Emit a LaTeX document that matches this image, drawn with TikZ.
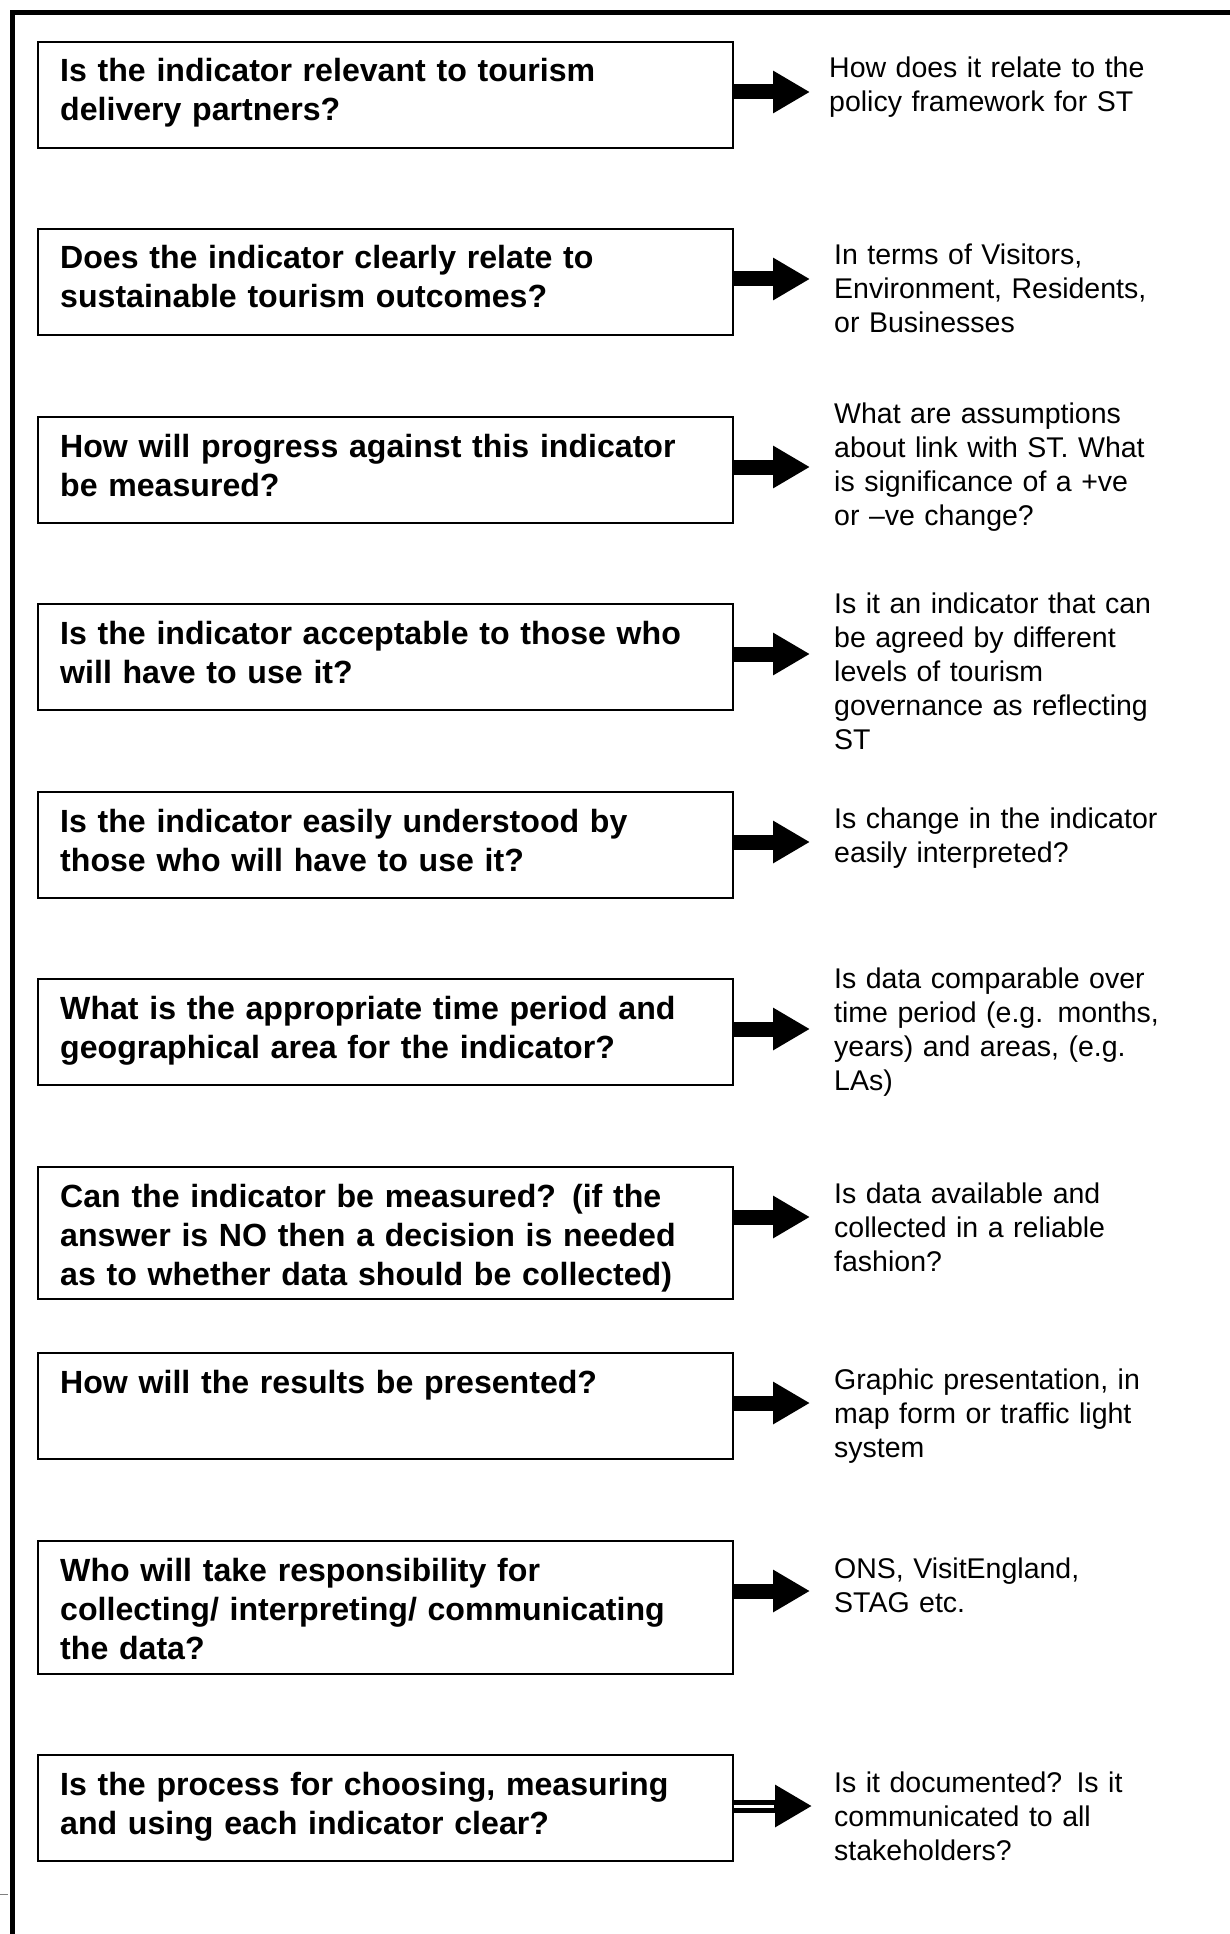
\documentclass[tikz,border=0pt]{standalone}
\usepackage{fontspec}
\setmainfont{Liberation Sans}
\usetikzlibrary{arrows.meta}
\begin{document}
\begin{tikzpicture}[x=1pt,y=-1pt,
  qbox/.style={draw, line width=1.6pt, anchor=north west, minimum width=695pt, inner sep=0pt},
  qtext/.style={anchor=base west, text width=670pt, align=left, inner sep=0pt, font=\fontsize{32.1}{39}\selectfont\bfseries},
  atext/.style={anchor=base west, text width=390pt, align=left, inner sep=0pt, font=\fontsize{28.5}{34}\selectfont},
  arr/.style={line width=15pt, -{Triangle[length=37pt,width=40pt]}},
  frame/.style={line width=5pt}
]
\useasboundingbox (0,0) rectangle (1230,1934);
\fill[white] (0,0) rectangle (1230,1934);
% frame
\coordinate (fl) at (12,1934);
\coordinate (fc) at (12,13);
\coordinate (fr) at (1230,13);
\draw[frame] (fl) -- (fc) -- (fr);
\coordinate (tk1) at (0,1894);
\coordinate (tk2) at (8,1894);
\draw[gray, line width=1pt] (tk1) -- (tk2);

% boxes
\node[qbox, minimum height=106pt] (b1) at (37,41) {};
\node[qbox, minimum height=106pt] (b2) at (37,228) {};
\node[qbox, minimum height=106pt] (b3) at (37,416) {};
\node[qbox, minimum height=106pt] (b4) at (37,603) {};
\node[qbox, minimum height=106pt] (b5) at (37,791) {};
\node[qbox, minimum height=106pt] (b6) at (37,978) {};
\node[qbox, minimum height=132pt] (b7) at (37,1166) {};
\node[qbox, minimum height=106pt] (b8) at (37,1352) {};
\node[qbox, minimum height=133pt] (b9) at (37,1540) {};
\node[qbox, minimum height=106pt] (b10) at (37,1754) {};

% question texts
\node[qtext] (q1) at (60,82) {Is the indicator relevant to tourism\\delivery partners?};
\node[qtext] (q2) at (60,269) {Does the indicator clearly relate to\\sustainable tourism outcomes?};
\node[qtext] (q3) at (60,457) {How will progress against this indicator\\be measured?};
\node[qtext] (q4) at (60,644) {Is the indicator acceptable to those who\\will have to use it?};
\node[qtext] (q5) at (60,832) {Is the indicator easily understood by\\those who will have to use it?};
\node[qtext] (q6) at (60,1019) {What is the appropriate time period and\\geographical area for the indicator?};
\node[qtext] (q7) at (60,1207) {Can the indicator be measured? (if the\\answer is NO then a decision is needed\\as to whether data should be collected)};
\node[qtext] (q8) at (60,1393) {How will the results be presented?};
\node[qtext] (q9) at (60,1581) {Who will take responsibility for\\collecting/ interpreting/ communicating\\the data?};
\node[qtext] (q10) at (60,1795) {Is the process for choosing, measuring\\and using each indicator clear?};

% answer texts
\node[atext] (a1) at (829,78) {How does it relate to the\\policy framework for ST};
\node[atext] (a2) at (834,265) {In terms of Visitors,\\Environment, Residents,\\or Businesses};
\node[atext] (a3) at (834,423) {What are assumptions\\about link with ST. What\\is significance of a +ve\\or –ve change?};
\node[atext] (a4) at (834,613) {Is it an indicator that can\\be agreed by different\\levels of tourism\\governance as reflecting\\ST};
\node[atext] (a5) at (834,828) {Is change in the indicator\\easily interpreted?};
\node[atext] (a6) at (834,988) {Is data comparable over\\time period (e.g. months,\\years) and areas, (e.g.\\LAs)};
\node[atext] (a7) at (834,1203) {Is data available and\\collected in a reliable\\fashion?};
\node[atext] (a8) at (834,1389) {Graphic presentation, in\\map form or traffic light\\system};
\node[atext] (a9) at (834,1578) {ONS, VisitEngland,\\STAG etc.};
\node[atext] (a10) at (834,1792) {Is it documented? Is it\\communicated to all\\stakeholders?};

% arrow tips
\coordinate (t1) at (810,92);
\coordinate (t2) at (810,279);
\coordinate (t3) at (810,467);
\coordinate (t4) at (810,654);
\coordinate (t5) at (810,842);
\coordinate (t6) at (810,1029);
\coordinate (t7) at (810,1217);
\coordinate (t8) at (810,1403);
\coordinate (t9) at (810,1591);
\coordinate (t10) at (812,1806);

\draw[arr] (b1.east |- t1) -- (t1);
\draw[arr] (b2.east |- t2) -- (t2);
\draw[arr] (b3.east |- t3) -- (t3);
\draw[arr] (b4.east |- t4) -- (t4);
\draw[arr] (b5.east |- t5) -- (t5);
\draw[arr] (b6.east |- t6) -- (t6);
\draw[arr] (b7.east |- t7) -- (t7);
\draw[arr] (b8.east |- t8) -- (t8);
\draw[arr] (b9.east |- t9) -- (t9);
\draw[arr, line width=13pt] (b10.east |- t10) -- (t10);
\coordinate (w10) at (774,1806);
\draw[white, line width=3pt] (b10.east |- t10) -- (w10);
\end{tikzpicture}
\end{document}
